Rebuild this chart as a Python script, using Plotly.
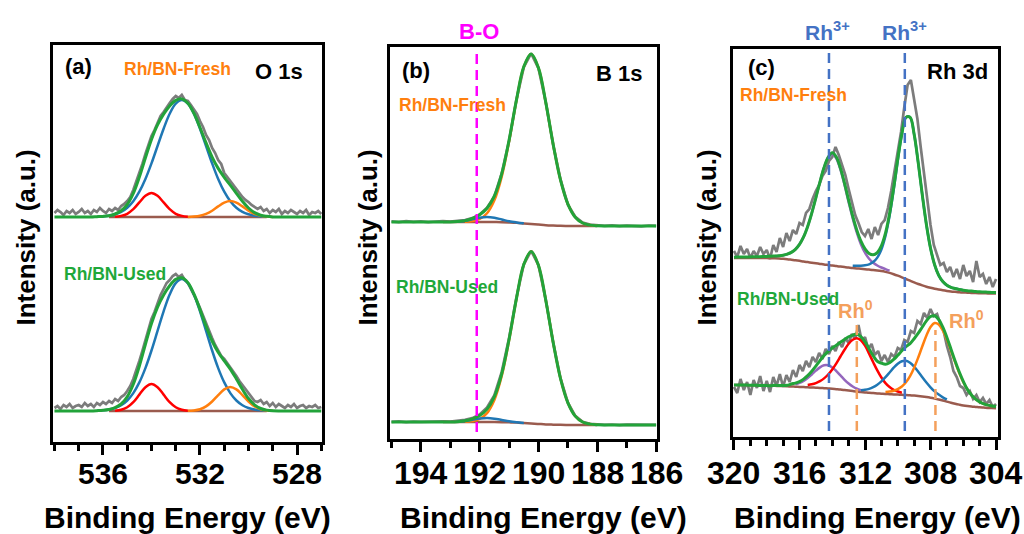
import numpy as np
import plotly.graph_objects as go

# ---------------- energy scales ----------------
E_A = np.round(np.arange(538.0, 526.99, -0.25), 3)       # fit grid, O 1s
E_A_RAW = np.round(np.arange(538.0, 526.99, -0.125), 3)  # raw grid, O 1s
E_B = np.round(np.arange(195.0, 185.99, -0.25), 3)       # B 1s
E_C = np.round(np.arange(320.0, 303.99, -0.25), 3)       # fit grid, Rh 3d
E_C_RAW = np.round(np.arange(320.0, 303.99, -0.2), 3)    # raw grid, Rh 3d

# tick labels
TICKS_A = [536, 532, 528]
TICKS_B = [194, 192, 190, 188, 186]
TICKS_C = [320, 316, 312, 308, 304]

# ---------------- (a) O 1s ----------------
a_fresh_raw = [4,7,5,2,6,4,7,3, 5,8,4,6,3,7,5,9, 6,4,8,6,9,7,11,13, 16,20,27,35,44,53,63,72,
               81,87,95,101,105,110,114,118, 121,119,122,117,116,112,108,103, 96,90,82,77,69,64,57,53,
               44,40,36,31,27,24,20,17, 15,12,10,8,10,6,8,4, 7,5,8,3,6,4,7,5, 3,6,4,7,2,5,4,6, 3]
a_used_raw = [3,5,2,6,4,7,3,5, 6,4,8,5,7,4,8,6, 9,7,10,8,12,10,14,16, 20,25,32,40,50,60,71,82,
              92,99,108,116,122,128,131,135, 137,134,136,131,128,122,117,110, 103,95,88,80,73,66,60,55,
              52,48,44,39,35,30,26,21, 17,13,10,9,11,7,9,5, 8,4,7,5,3,6,4,7, 3,5,6,3,5,4,6,3, 4]
# components: (start energy, intensities)
a_fresh_blue = (536.25, [0.3,0.6,1.3,2.7,5.1,9.3,15.8,25.3,38.0,53.6,71.0,88.3,103.3,113.4,117,
                         113.4,103.3,88.3,71.0,53.6,38.0,25.3,15.8,9.3,5.1,2.7,1.3,0.6,0.3])
a_fresh_red = (535.5, [0.3,1.1,3.2,7.8,14.6,21.2,24,21.2,14.6,7.8,3.2,1.1,0.3])
a_fresh_orange = (532.5, [0.1,0.4,1.2,3.1,6.3,10.6,14.4,16,14.4,10.6,6.3,3.1,1.2,0.4,0.1])
a_used_blue = (536.25, [0.3,0.7,1.5,3.0,5.8,10.5,17.9,28.6,42.9,60.5,80.1,99.7,116.5,127.9,132,
                        127.9,116.5,99.7,80.1,60.5,42.9,28.6,17.9,10.5,5.8,3.0,1.5,0.7,0.3])
a_used_red = (535.5, [0.3,1.2,3.7,8.8,16.4,23.8,27,23.8,16.4,8.8,3.7,1.2,0.3])
a_used_orange = (532.5, [0.2,0.6,1.8,4.6,9.5,15.9,21.6,24,21.6,15.9,9.5,4.6,1.8,0.6,0.2])
a_bg = [0.0] * len(E_A)
a_bg_span = (535.75, 529.25)

# ---------------- (b) B 1s ----------------
b_fresh_raw = [4.6,3.8,4.9,4.2,4.7,3.9,4.5,4.8,4.3,5.1, 6.0,7.9,11.6,18.3,29.5,52.8,85.2,126.4,158.8,172.6,
               157.5,123.6,81.0,46.3,21.4,9.3,3.4,1.4,0.7,0.2, 0.6,-0.2,0.4,0.1,-0.3,0.5,0.2]
b_used_raw = [3.2,3.6,2.9,3.4,3.1,3.5,3.3,3.6,3.4,4.0, 5.1,6.9,10.6,17.5,29.8,53.2,86.9,127.5,160.7,174.2,
              159.8,124.9,82.3,46.5,22.3,9.1,3.2,1.1,0.4,0.2, 0.5,-0.1,0.3,0.2,-0.2,0.4,0.1]
b_fresh_bg = [4.0]*13 + [3.97,3.9,3.8,3.55,3.2,2.6,2.0,1.4,0.8,0.45,0.2,0.1] + [0.0]*12
b_used_bg = [3.0]*13 + [2.98,2.93,2.85,2.66,2.4,1.95,1.5,1.05,0.6,0.34,0.15,0.08] + [0.0]*12
b_fresh_orange = (192.5, [0.2,0.9,3.0,8.8,21.8,45.6,81.1,122.3,156.6,170,156.6,122.3,81.1,45.6,21.8,8.8,3.0,0.9,0.2])
b_fresh_blue = (192.75, [0.4,1.2,2.7,4.3,5,4.3,2.7,1.2,0.4,0.1])
b_used_orange = (192.5, [0.2,0.9,3.0,8.9,22.1,46.1,82.1,123.7,158.4,172,158.4,123.7,82.1,46.1,22.1,8.9,3.0,0.9,0.2])
b_used_blue = (192.75, [0.3,1.0,2.2,3.4,4,3.4,2.2,1.0,0.3,0.1])
b_bg_span = (193.25, 188.0)

# ---------------- (c) Rh 3d ----------------
c_fresh_raw = [186,180,191,183,188,179,186,181,190,183, 187,178,192,185,199,190,204,196,207,203,
               214,212,224,228,238,246,252,261,266,276, 280,290,282,272,262,248,236,222,214,205,
               201,208,198,210,202,213,217,229,246,266, 282,305,330,352,357,336,318,290,262,236,
               212,192,181,172,174,165,170,160,168,158, 172,161,166,155,176,160,163,153,160,150, 158]
c_used_raw = [50,44,58,47,55,42,57,49,61,46, 56,45,60,51,63,50,62,55,67,60,
              72,66,76,70,80,75,84,78,88,83, 91,86,95,90,99,94,103,98,112,96,
              100,88,93,82,86,76,82,75,83,80, 89,87,97,95,106,104,116,113,124,119,
              128,121,123,113,106,91,80,66,60,51, 49,42,46,38,42,35,39,33,37,30, 33]
c_fresh_bg = [179.0,179.0,179.0,179.0,179.0,179.0,179.0,178.9,178.9,178.8,178.7,178.5,178.2,177.8,177.3,176.8,
              176.2,175.5,174.9,174.3,173.7,173.1,172.5,172.0,171.5,170.9,170.4,169.9,169.4,169.0,168.6,168.2,
              167.8,167.4,167.0,166.5,165.9,165.1,164.1,162.8,161.3,159.7,158.0,156.3,154.6,153.0,151.6,150.3,
              149.2,148.2,147.4,146.7,146.1,145.6,145.2,144.8,144.5,144.3,144.1,143.9,143.8,143.7,143.6,143.5,143.5]
c_used_bg = [52.0,52.0,51.9,51.9,51.8,51.7,51.6,51.5,51.4,51.3,51.2,51.0,50.9,50.7,50.5,50.3,
             50.1,49.9,49.7,49.5,49.3,49.1,48.8,48.5,48.2,47.8,47.4,46.9,46.4,45.9,45.4,45.0,
             44.6,44.2,43.9,43.6,43.3,43.0,42.8,42.6,42.4,42.2,42.0,41.7,41.4,41.0,40.5,39.9,
             39.2,38.4,37.5,36.5,35.4,34.3,33.3,32.4,31.6,31.0,30.5,30.1,29.7,29.4,29.1,28.9,28.7]
c_fresh_purple = (320.0, [0.8,0.9,0.9,1.0,1.1,1.2,1.3,1.5,1.7,1.9,2.3,2.8,3.6,5.0,7.3,10.9,16.5,24.6,35.7,
                          49.6,65.5,82.1,97.0,107.6,111.5,107.6,97.0,82.1,65.5,49.6,35.7,24.6,16.5,10.9,
                          7.3,5.0,3.6,2.8,2.3,1.9,1.7])
c_fresh_blue = (314.0, [1.2,1.4,1.5,1.7,2.0,2.2,2.6,3.1,3.9,5.3,7.9,12.9,21.6,35.9,57.0,84.3,115.0,143.3,
                        161.7,163.5,148.1,121.1,90.3,62.0,39.6,24.0,14.2,8.7,5.7,4.1,3.3,2.7,2.3,2.0,
                        1.8,1.6,1.4,1.3,1.2,1.1,1.0])
c_used_purple = (317.5, [0.44,0.55,0.72,1.02,1.56,2.49,4.00,6.26,9.32,13.05,17.03,20.57,22.86,23.16,
                         21.39,18.10,14.16,10.31,7.04,4.55,2.85,1.77,1.14,0.78,0.58,0.47,0.38])
c_used_red = (316.5, [0.97,1.13,1.36,1.72,2.28,3.18,4.59,6.73,9.80,14.0,19.4,25.9,33.1,40.3,46.8,51.4,
                      53.4,51.8,46.7,39.2,30.9,23.0,16.2,10.9,7.17,4.65,3.07,2.12,1.56])
c_used_blue = (312.5, [1.3,1.8,2.6,3.9,5.9,8.7,12.3,16.8,21.7,26.7,30.9,33.6,34.2,32.5,29.0,24.3,19.3,
                       14.6,10.5,7.2,4.9,3.2,2.2,1.5,1.1,0.9,0.7])
c_used_orange = (311.0, [1.6,2.0,2.6,3.6,5.4,8.3,12.7,19.2,27.9,38.5,50.2,61.6,70.8,75.6,75.1,70.2,62.0,
                         52.0,41.6,31.9,23.4,16.6,11.5,7.8,5.4,3.8,2.8,2.2,1.7])
c_bg_span = (320.0, 304.0)

# marker lines (binding energies)
BO_E = [192.1]
RH3_E = [314.2, 309.57]
RH0_E = [312.5, 307.7]

# ---------------- styling ----------------
FONT = "Liberation Sans, Arial, sans-serif"
GRAY = "#7c7c7c"
GREEN = "#22a33a"
BLUE = "#1f77b4"
RED = "#ff0000"
ORANGE = "#ff7f0e"
PURPLE = "#9467bd"
BROWN = "#9a5b4e"
LBL_ORANGE = "#ff7f0e"
LBL_GREEN = "#1fa83a"
MAGENTA = "#ff00ff"
RH3_BLUE = "#4472c4"
RH0_ORANGE = "#f4a05c"

W, H = 1024, 534

fig = go.Figure()


def place(grid, comp):
    start, vals = comp
    out = np.zeros(len(grid))
    i0 = int(np.argmin(np.abs(grid - start)))
    out[i0:i0 + len(vals)] = vals
    return out, i0


def add_line(x, y, color, width, xa, ya, shape="spline"):
    fig.add_trace(go.Scatter(x=x, y=y, mode="lines", line=dict(color=color, width=width, shape=shape),
                             xaxis=xa, yaxis=ya, showlegend=False, hoverinfo="skip"))


def draw_spectrum(grid, raw_grid, raw, bg, comps, offset, bg_span, xa, ya, thr):
    bg = np.asarray(bg, dtype=float)
    add_line(raw_grid, np.asarray(raw, dtype=float) + offset, GRAY, 2.7, xa, ya, shape="linear")
    m = (grid <= bg_span[0] + 1e-6) & (grid >= bg_span[1] - 1e-6)
    add_line(grid[m], bg[m] + offset, BROWN, 2.5, xa, ya)
    total = bg.copy()
    for comp, color in comps:
        arr, i0 = place(grid, comp)
        total += arr
        vals = np.asarray(comp[1], dtype=float)
        idx = np.where(vals >= thr)[0]
        lo, hi = max(idx[0] - 1, 0), min(idx[-1] + 1, len(vals) - 1)
        xs = grid[i0 + lo:i0 + hi + 1]
        ys = bg[i0 + lo:i0 + hi + 1] + vals[lo:hi + 1] + offset
        add_line(xs, ys, color, 2.5, xa, ya)
    add_line(grid, total + offset, GREEN, 3, xa, ya)


# panel (a)
draw_spectrum(E_A, E_A_RAW, a_fresh_raw, a_bg, [(a_fresh_blue, BLUE), (a_fresh_red, RED), (a_fresh_orange, ORANGE)],
              225, a_bg_span, "x", "y", 0.25)
draw_spectrum(E_A, E_A_RAW, a_used_raw, a_bg, [(a_used_blue, BLUE), (a_used_red, RED), (a_used_orange, ORANGE)],
              31, a_bg_span, "x", "y", 0.25)
# panel (b)
draw_spectrum(E_B, E_B, b_fresh_raw, b_fresh_bg, [(b_fresh_orange, ORANGE), (b_fresh_blue, BLUE)],
              213, b_bg_span, "x2", "y2", 0.1)
draw_spectrum(E_B, E_B, b_used_raw, b_used_bg, [(b_used_orange, ORANGE), (b_used_blue, BLUE)],
              14, b_bg_span, "x2", "y2", 0.1)
# panel (c)
draw_spectrum(E_C, E_C_RAW, c_fresh_raw, c_fresh_bg, [(c_fresh_purple, PURPLE), (c_fresh_blue, BLUE)],
              0, c_bg_span, "x3", "y3", 2.5)
draw_spectrum(E_C, E_C_RAW, c_used_raw, c_used_bg,
              [(c_used_purple, PURPLE), (c_used_red, RED), (c_used_blue, BLUE), (c_used_orange, ORANGE)],
              0, c_bg_span, "x3", "y3", 2.5)


def px_dom(a, b, total):
    return [a / total, b / total]


def ydom(top, bottom):
    return [1 - bottom / H, 1 - top / H]


def xaxis(dom, rng, dtick, tick0, anchor):
    return dict(domain=dom, range=rng, anchor=anchor, showline=True, linewidth=3, linecolor="black",
                mirror=True, ticks="outside", ticklen=10, tickwidth=2.5, tickcolor="black",
                tickmode="linear", dtick=dtick, tick0=tick0, showgrid=False, zeroline=False,
                showticklabels=False,
                minor=dict(dtick=1, tick0=0, ticks="outside", ticklen=6, tickwidth=2.5,
                           tickcolor="black", showgrid=False),
                automargin=False, fixedrange=True)


def yaxis(dom, rng, anchor):
    return dict(domain=dom, range=rng, anchor=anchor, showline=True, linewidth=3, linecolor="black",
                mirror=True, ticks="", showticklabels=False, showgrid=False, zeroline=False,
                automargin=False, fixedrange=True)


layout = dict(
    width=W, height=H, margin=dict(l=0, r=0, t=0, b=0),
    paper_bgcolor="white", plot_bgcolor="white", showlegend=False,
    xaxis=xaxis(px_dom(53, 322, W), [538.06, 526.97], 4, 528, "y"),
    yaxis=yaxis(ydom(45, 442), [0, 397], "x"),
    xaxis2=xaxis(px_dom(390, 657, W), [195.05, 185.97], 2, 186, "y2"),
    yaxis2=yaxis(ydom(47, 439), [0, 392], "x2"),
    xaxis3=xaxis(px_dom(733, 998, W), [320.06, 303.88], 4, 304, "y3"),
    yaxis3=yaxis(ydom(49, 437), [0, 388], "x3"),
)
fig.update_layout(**layout)

shapes = []
for e in BO_E:
    shapes.append(dict(type="line", xref="x2", yref="y2", x0=e, x1=e, y0=7, y1=387,
                       line=dict(color=MAGENTA, width=2.5, dash="10px,6px")))
for e in RH3_E:
    shapes.append(dict(type="line", xref="x3", yref="y3", x0=e, x1=e, y0=6, y1=385,
                       line=dict(color=RH3_BLUE, width=2.5, dash="10px,6px")))
for e, top in zip(RH0_E, [114, 107]):
    shapes.append(dict(type="line", xref="x3", yref="y3", x0=e, x1=e, y0=6, y1=top,
                       line=dict(color=RH0_ORANGE, width=2.5, dash="10px,6px")))
fig.update_layout(shapes=shapes)

texts = [
    ("(a)", 78, 67, 22, "black", 0), ("Rh/BN-Fresh", 177.5, 68.5, 17.5, LBL_ORANGE, 0),
    ("O 1s", 279, 71, 22, "black", 0), ("Rh/BN-Used", 115, 274, 17.5, LBL_GREEN, 0),
    ("(b)", 416, 70.5, 22, "black", 0), ("B 1s", 618.5, 73, 22, "black", 0),
    ("Rh/BN-Fresh", 452, 105, 17.5, LBL_ORANGE, 0), ("Rh/BN-Used", 447, 287, 17.5, LBL_GREEN, 0),
    ("B-O", 478.5, 31, 22, MAGENTA, 0),
    ("(c)", 761, 67.5, 22, "black", 0), ("Rh 3d", 957.5, 71, 22, "black", 0),
    ("Rh/BN-Fresh", 793.5, 95, 17.5, LBL_ORANGE, 0), ("Rh/BN-Used", 788, 298.5, 17.5, LBL_GREEN, 0),
    ("Rh<sup>3+</sup>", 827, 31, 21, RH3_BLUE, 0), ("Rh<sup>3+</sup>", 904.5, 31, 21, RH3_BLUE, 0),
    ("Rh<sup>0</sup>", 855, 309, 20, RH0_ORANGE, 0), ("Rh<sup>0</sup>", 966, 319.5, 20, RH0_ORANGE, 0),
    ("Binding Energy (eV)", 187.5, 517, 30, "black", 0),
    ("Binding Energy (eV)", 543, 517, 30, "black", 0),
    ("Binding Energy (eV)", 877, 517, 30, "black", 0),
    ("Intensity (a.u.)", 25, 237.5, 26, "black", -90),
    ("Intensity (a.u.)", 367, 237.5, 26, "black", -90),
    ("Intensity (a.u.)", 706, 237.5, 26, "black", -90),
]
ann = []
for t, x, y, s, c, ang in texts:
    ann.append(dict(text=t, x=x / W, y=1 - y / H, xref="paper", yref="paper", xanchor="center",
                    yanchor="middle", showarrow=False, textangle=ang,
                    font=dict(family=FONT, size=s, color=c, weight="bold")))

# tick labels, placed through each x axis
for ticks, xref, size in [(TICKS_A, "x", 30), (TICKS_B, "x2", 32), (TICKS_C, "x3", 32)]:
    for v in ticks:
        ann.append(dict(text=str(v), x=v, xref=xref, y=1 - 473 / H, yref="paper",
                        xanchor="center", yanchor="middle", showarrow=False,
                        font=dict(family=FONT, size=size, color="black", weight="bold")))
fig.update_layout(annotations=ann)

fig.write_html("out.html", config={"displayModeBar": False},
               post_script="document.body.style.margin='0';document.body.style.overflow='hidden';")
